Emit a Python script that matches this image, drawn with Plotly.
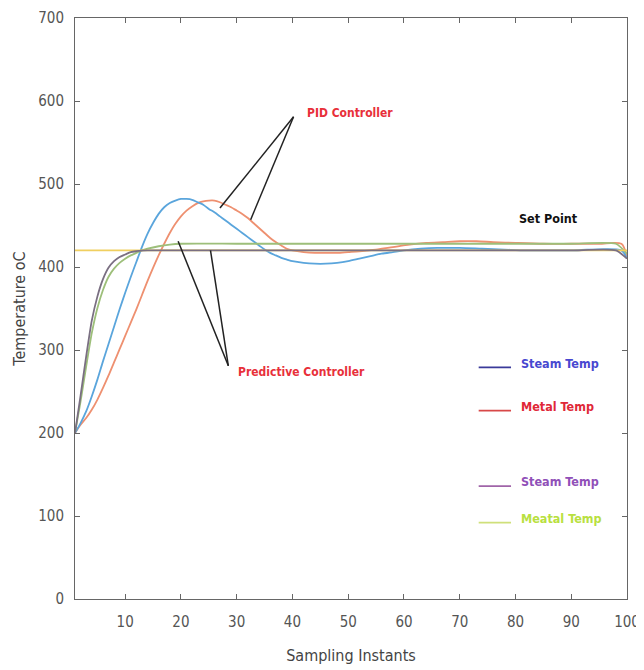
import plotly.graph_objects as go

# ---------------- data ----------------
pid_steam_x = [1, 2, 3, 4, 5, 6, 7, 8, 9, 10, 11, 12, 13, 14, 15, 16, 17, 18, 19, 20, 21, 22, 23, 24,
               25, 26, 27, 28, 29, 30, 31, 32, 33, 34, 35, 36, 37, 38, 39, 40, 42, 44, 46, 48, 50,
               52, 54, 56, 58, 60, 63, 66, 70, 74, 78, 82, 90, 99, 100]
pid_steam_y = [200, 212, 226, 244, 264, 286, 307, 328, 349, 369, 388, 406, 424, 440, 453, 464, 472, 477,
               480, 482, 482, 481, 478, 475, 470, 466, 461, 456, 451, 446, 441, 436, 431, 426, 421, 417,
               414, 411, 409, 407, 405, 404, 404, 405, 407, 410, 413, 416, 418, 420, 422, 423, 423, 422,
               421, 420, 420, 420, 410]

pid_metal_x = [1, 2, 3, 4, 5, 6, 7, 8, 9, 10, 11, 12, 13, 14, 15, 16, 17, 18, 19, 20, 21, 22, 23, 24,
               25, 26, 27, 28, 29, 30, 31, 32, 33, 34, 35, 36, 37, 38, 39, 40, 42, 44, 46, 48, 50,
               52, 55, 58, 61, 64, 67, 70, 73, 76, 80, 85, 90, 95, 99, 100]
pid_metal_y = [200, 210, 218, 228, 240, 254, 269, 285, 301, 317, 333, 349, 366, 383, 399, 414, 428, 441,
               452, 461, 468, 473, 477, 479, 480, 480, 478, 475, 472, 468, 464, 459, 453, 447, 441, 435,
               430, 426, 422, 420, 418, 417, 417, 417, 418, 419, 421, 424, 427, 429, 430, 431, 431, 430,
               429, 428, 428, 428, 428, 412]

pred_steam_x = [1, 2, 3, 4, 5, 6, 7, 8, 9, 10, 11, 12, 14, 16, 20, 30, 40, 50, 60, 70, 80, 90, 98, 100]
pred_steam_y = [200, 245, 292, 335, 364, 385, 399, 407, 412, 415, 418, 419, 420, 420, 420, 420, 420,
                420, 420, 420, 420, 420, 420, 410]

pred_metal_x = [1, 2, 3, 4, 5, 6, 7, 8, 9, 10, 11, 12, 13, 14, 16, 18, 20, 30, 40, 50, 60, 70, 80, 90, 98, 100]
pred_metal_y = [200, 238, 280, 320, 350, 372, 388, 398, 405, 410, 414, 417, 420, 422, 425, 427, 428, 428,
                428, 428, 428, 428, 428, 428, 428, 416]

set_point_x = [1, 100]
set_point_y = [420, 420]

x_ticks = [10, 20, 30, 40, 50, 60, 70, 80, 90, 100]
y_ticks = [0, 100, 200, 300, 400, 500, 600, 700]

legend_labels = ["Steam Temp", "Metal Temp", "Steam Temp", "Meatal Temp"]

# ---------------- figure ----------------
fig = go.Figure()
LW = 1.8
fig.add_trace(go.Scatter(x=pid_metal_x, y=pid_metal_y, mode="lines",
                         line=dict(color="#ee9070", width=LW, shape="spline", smoothing=0.8), showlegend=False))
fig.add_trace(go.Scatter(x=pid_steam_x, y=pid_steam_y, mode="lines",
                         line=dict(color="#5aa5dc", width=LW, shape="spline", smoothing=0.8), showlegend=False))
fig.add_trace(go.Scatter(x=pred_metal_x, y=pred_metal_y, mode="lines",
                         line=dict(color="#9dbf7a", width=LW, shape="spline", smoothing=0.6), showlegend=False))
fig.add_trace(go.Scatter(x=set_point_x, y=set_point_y, mode="lines",
                         line=dict(color="#f0cf60", width=LW), showlegend=False))
fig.add_trace(go.Scatter(x=pred_steam_x, y=pred_steam_y, mode="lines",
                         line=dict(color="#7a6f82", width=LW, shape="spline", smoothing=0.6), showlegend=False))

NARROW = "DejaVu Sans Condensed, Liberation Sans Narrow, Liberation Sans, Arial"

# annotation text
ann = []
ann.append(dict(x=42.3, y=586, text="<b>PID Controller</b>", xanchor="left", yanchor="middle",
                font=dict(family=NARROW, size=12, color="#e8303a")))
ann.append(dict(x=29.8, y=274, text="<b>Predictive Controller</b>", xanchor="left", yanchor="middle",
                font=dict(family=NARROW, size=12, color="#e8303a")))
ann.append(dict(x=80.2, y=459, text="<b>Set Point</b>", xanchor="left", yanchor="middle",
                font=dict(family=NARROW, size=12.5, color="#111111")))

leg_y = [284, 232, 141, 97]
leg_line_colors = ["#3a3a9a", "#d84848", "#a064a8", "#cfe07a"]
leg_text_colors = ["#4848d0", "#e02838", "#9050b8", "#b8e040"]
for lab, yy, tc in zip(legend_labels, leg_y, leg_text_colors):
    ann.append(dict(x=80.6, y=yy, text="<b>" + lab + "</b>", xanchor="left", yanchor="middle",
                    font=dict(family=NARROW, size=12.5, color=tc)))
for a in ann:
    a.update(xref="x", yref="y", showarrow=False)

shapes = []
# pointer lines
for (x0, y0, x1, y1) in [(40.2, 581, 27.0, 471), (40.2, 581, 32.5, 457),
                         (28.5, 281, 19.5, 431), (28.5, 281, 25.3, 420)]:
    shapes.append(dict(type="line", xref="x", yref="y", x0=x0, y0=y0, x1=x1, y1=y1,
                       line=dict(color="#222222", width=1.5)))
# legend swatches
for yy, lc in zip(leg_y, leg_line_colors):
    shapes.append(dict(type="line", xref="x", yref="y", x0=73.4, x1=79.2, y0=yy - 5, y1=yy - 5,
                       line=dict(color=lc, width=1.8)))

axis_common = dict(showgrid=False, zeroline=False, showline=True, linecolor="#666666", linewidth=1,
                   mirror="ticks", ticks="inside", ticklen=5, tickcolor="#666666", automargin=False,
                   tickfont=dict(family=NARROW, size=15, color="#555555"))

fig.update_layout(
    width=636, height=662,
    margin=dict(l=67, r=17, t=10, b=71),
    paper_bgcolor="white", plot_bgcolor="white",
    annotations=ann, shapes=shapes,
    xaxis=dict(range=[1, 100], tickvals=x_ticks, ticktext=[str(v) for v in x_ticks],
               ticklabelstandoff=9,
               title=dict(text="Sampling Instants", font=dict(family=NARROW, size=16, color="#444444"),
                          standoff=19),
               **axis_common),
    yaxis=dict(range=[0, 700], tickvals=y_ticks, ticktext=[str(v) for v in y_ticks],
               ticklabelstandoff=7,
               title=dict(text="Temperature oC", font=dict(family=NARROW, size=16, color="#444444"),
                          standoff=8),
               **axis_common),
)

fig.write_html("out.html")
